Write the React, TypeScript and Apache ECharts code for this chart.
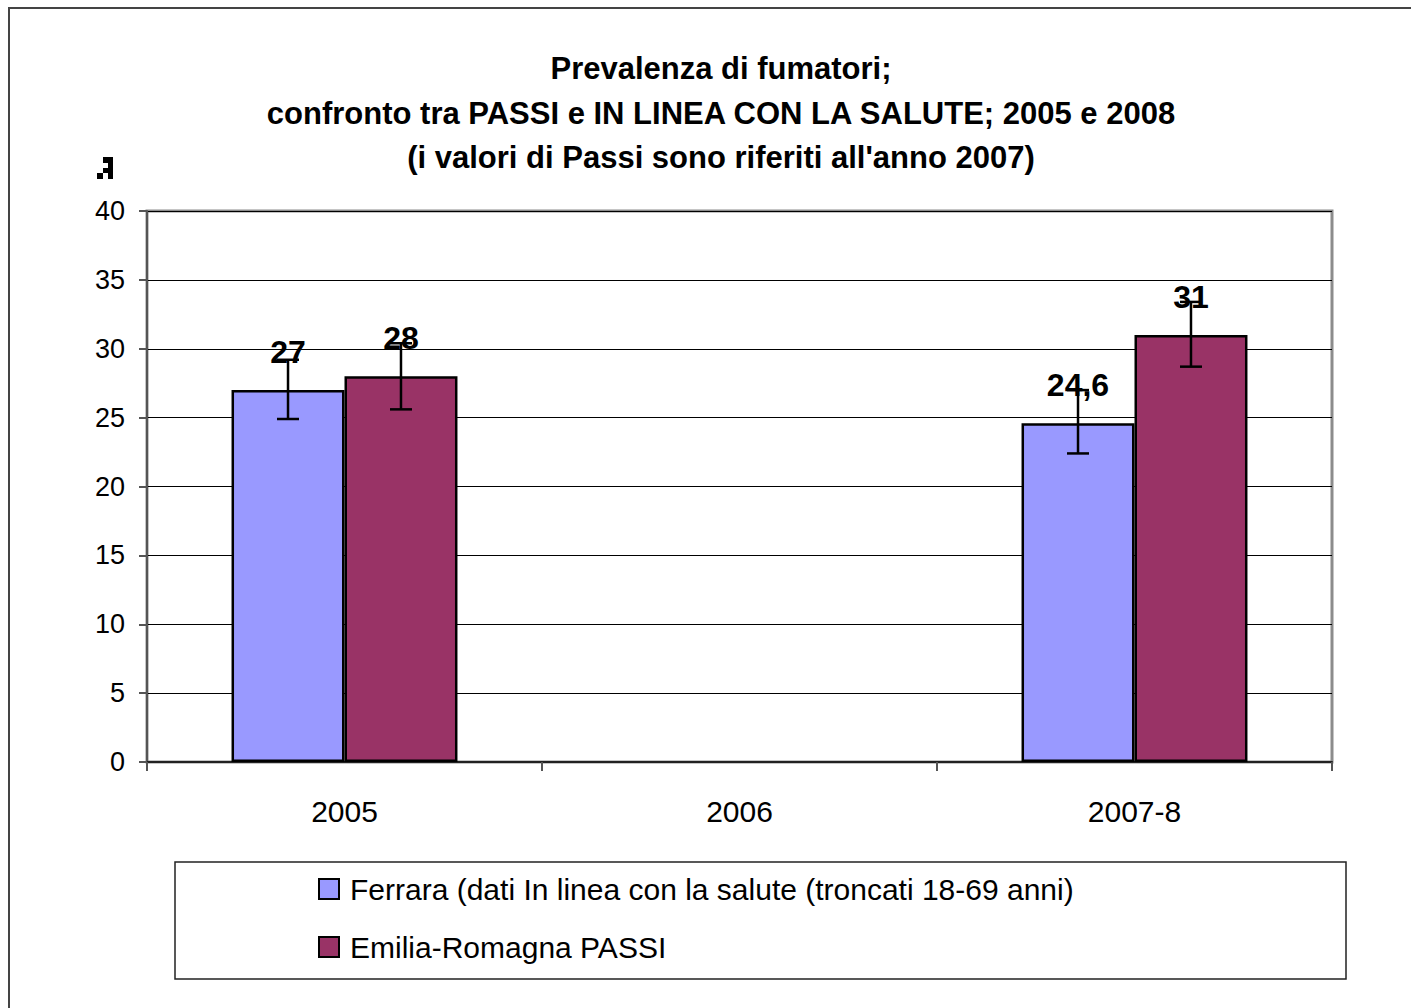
import React, { useEffect, useRef } from "react";
import * as echarts from "echarts";

const categories = ["2005", "2006", "2007-8"];
const ferraraValues: (number | null)[] = [27, null, 24.6];
const emiliaValues: (number | null)[] = [28, null, 31];
const ferraraErrLow: (number | null)[] = [24.9, null, 22.4];
const ferraraErrHigh: (number | null)[] = [29.2, null, 27.0];
const emiliaErrLow: (number | null)[] = [25.6, null, 28.7];
const emiliaErrHigh: (number | null)[] = [30.4, null, 33.4];
const seriesNames = [
  "Ferrara (dati In linea con la salute (troncati 18-69 anni)",
  "Emilia-Romagna PASSI",
];
const titleLines = [
  "Prevalenza di fumatori;",
  "confronto tra PASSI e IN LINEA CON LA SALUTE; 2005 e 2008",
  "(i valori di Passi sono riferiti all'anno 2007)",
];

const FONT = "'Liberation Sans', Arial, sans-serif";
const BAR_FRAC = 0.286;

function errorData(low: (number | null)[], high: (number | null)[]) {
  const out: any[] = [];
  low.forEach((l, i) => {
    const h = high[i];
    if (l != null && h != null) out.push([i, l, h]);
  });
  return out;
}

function makeErrorSeries(low: (number | null)[], high: (number | null)[], sign: number) {
  return {
    type: "custom",
    z: 10,
    silent: true,
    data: errorData(low, high),
    encode: { x: 0, y: [1, 2] },
    renderItem: (params: any, api: any) => {
      const x = api.value(0);
      const pLow = api.coord([x, api.value(1)]);
      const pHigh = api.coord([x, api.value(2)]);
      const band = api.size([1, 0])[0];
      const cx = pLow[0] + (sign * band * BAR_FRAC) / 2;
      const cap = 11;
      const style = { stroke: "#000", lineWidth: 2.5 };
      return {
        type: "group",
        children: [
          { type: "line", shape: { x1: cx, y1: pLow[1], x2: cx, y2: pHigh[1] }, style },
          { type: "line", shape: { x1: cx - cap, y1: pLow[1], x2: cx + cap, y2: pLow[1] }, style },
          { type: "line", shape: { x1: cx - cap, y1: pHigh[1], x2: cx + cap, y2: pHigh[1] }, style },
        ],
      };
    },
  };
}

const labelCfg = {
  show: true,
  position: "top",
  distance: 22,
  color: "#000",
  fontFamily: FONT,
  fontWeight: "bold",
  fontSize: 32,
  formatter: (p: any) => String(p.value).replace(".", ","),
};

export default function App() {
  const ref = useRef<HTMLDivElement>(null);
  useEffect(() => {
    if (!ref.current) return;
    const chart = echarts.init(ref.current, null, { renderer: "svg" });
    const titleY = [68, 113, 157];
    chart.setOption({
      animation: false,
      backgroundColor: "#fff",
      textStyle: { fontFamily: FONT },
      grid: {
        left: 147,
        top: 211,
        right: 79,
        bottom: 246,
        show: true,
        borderColor: "#8c8c8c",
        borderWidth: 3,
        backgroundColor: "transparent",
      },
      xAxis: {
        type: "category",
        data: categories,
        axisLine: { show: true, lineStyle: { color: "#222", width: 2 } },
        axisTick: { show: true, length: 9, alignWithLabel: false, lineStyle: { color: "#555", width: 2 } },
        axisLabel: { color: "#000", fontSize: 30, margin: 34, fontFamily: FONT },
        splitLine: { show: false },
      },
      yAxis: {
        type: "value",
        min: 0,
        max: 40,
        interval: 5,
        axisLine: { show: true, lineStyle: { color: "#555", width: 2 } },
        axisTick: { show: true, length: 8, lineStyle: { color: "#555", width: 2 } },
        axisLabel: { color: "#000", fontSize: 27, margin: 22, fontFamily: FONT },
        splitLine: { show: true, lineStyle: { color: "#000", width: 1 } },
      },
      legend: {
        orient: "vertical",
        left: 318,
        top: 874,
        padding: 0,
        itemWidth: 20,
        itemHeight: 20,
        itemGap: 28,
        icon: "rect",
        data: seriesNames,
        textStyle: { color: "#000", fontSize: 30, fontFamily: FONT, padding: [0, 0, 0, 6] },
      },
      series: [
        {
          name: seriesNames[0],
          type: "bar",
          data: ferraraValues,
          barWidth: `${BAR_FRAC * 100}%`,
          barGap: "0%",
          itemStyle: { color: "#9999FF", borderColor: "#000", borderWidth: 2.5 },
          label: labelCfg,
        },
        {
          name: seriesNames[1],
          type: "bar",
          data: emiliaValues,
          barWidth: `${BAR_FRAC * 100}%`,
          barGap: "0%",
          itemStyle: { color: "#993366", borderColor: "#000", borderWidth: 2.5 },
          label: labelCfg,
        },
        makeErrorSeries(ferraraErrLow, ferraraErrHigh, -1),
        makeErrorSeries(emiliaErrLow, emiliaErrHigh, 1),
      ],
      graphic: [
        {
          type: "rect",
          silent: true,
          shape: { x: 9, y: 8, width: 1430, height: 1030 },
          style: { fill: "none", stroke: "#444", lineWidth: 2 },
        },
        {
          type: "rect",
          silent: true,
          shape: { x: 175, y: 862, width: 1171, height: 117 },
          style: { fill: "none", stroke: "#222", lineWidth: 1.5 },
        },
        ...titleLines.map((t, i) => ({
          type: "text",
          x: 721,
          y: titleY[i],
          style: {
            text: t,
            fill: "#000",
            font: `bold 31px ${FONT}`,
            textAlign: "center",
            textVerticalAlign: "middle",
          },
        })),
        { type: "rect", shape: { x: 103, y: 157, width: 10, height: 6 }, style: { fill: "#000" } },
        { type: "rect", shape: { x: 108, y: 163, width: 5, height: 16 }, style: { fill: "#000" } },
        { type: "rect", shape: { x: 103, y: 168, width: 5, height: 5 }, style: { fill: "#000" } },
        { type: "rect", shape: { x: 97, y: 173, width: 6, height: 6 }, style: { fill: "#000" } },
      ],
    });
    return () => chart.dispose();
  }, []);
  return (
    <div
      ref={ref}
      style={{ position: "absolute", left: 0, top: 0, width: 1411, height: 1008 }}
    />
  );
}
